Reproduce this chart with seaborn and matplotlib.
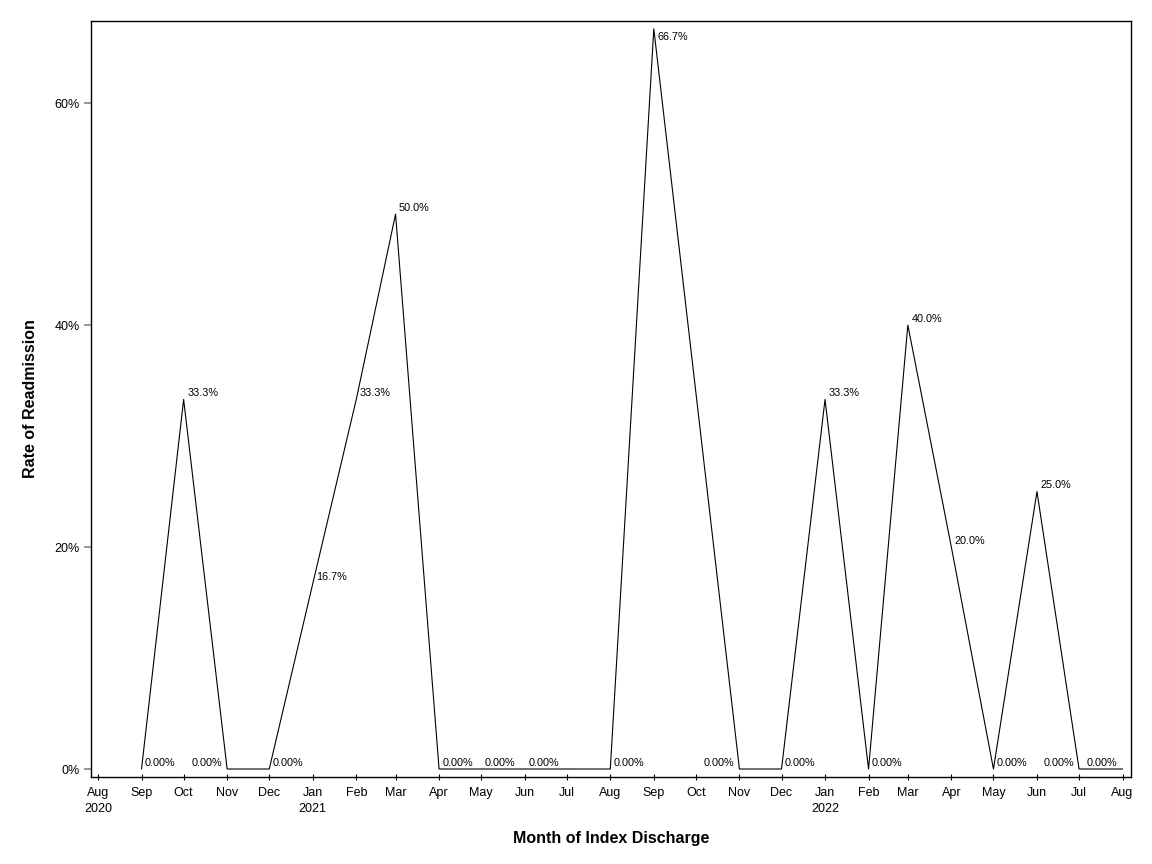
import pandas as pd
import numpy as np

import seaborn as sns
import matplotlib.pyplot as plt
from matplotlib.ticker import FuncFormatter

# monthly readmission rate (%), months with no discharges are left out
months = ['2020-09', '2020-10', '2020-11', '2020-12', '2021-01', '2021-02',
          '2021-03', '2021-04', '2021-05', '2021-06', '2021-08', '2021-09',
          '2021-11', '2021-12', '2022-01', '2022-02', '2022-03', '2022-04',
          '2022-05', '2022-06', '2022-07', '2022-08']
rates = [0.0, 33.3, 0.0, 0.0, 16.7, 33.3,
         50.0, 0.0, 0.0, 0.0, 0.0, 66.7,
         0.0, 0.0, 33.3, 0.0, 40.0, 20.0,
         0.0, 25.0, 0.0, 0.0]

tick_months = pd.date_range('2020-08-01', '2022-08-01', freq='MS')

# where SAS moved the point labels to avoid the line
left_labels = ['2020-11', '2021-11', '2022-07', '2022-08']
below_labels = ['2021-09']

df = pd.DataFrame({'month': pd.to_datetime(months), 'rate': rates})

sns.set_style('white')
plt.rcParams['font.family'] = ['Liberation Sans', 'DejaVu Sans']
plt.rcParams['text.color'] = 'black'
plt.rcParams['axes.labelcolor'] = 'black'
plt.rcParams['xtick.color'] = 'black'
plt.rcParams['ytick.color'] = 'black'

fig = plt.figure(figsize=(11.52, 8.64), dpi=100)
ax = fig.add_axes([91 / 1152, 1 - 777 / 864, 1040 / 1152, 756 / 864])

sns.lineplot(data=df, x='month', y='rate', color='black', linewidth=0.8, ax=ax)

for m, d, v in zip(months, df['month'], df['rate']):
    txt = '0.00%' if v == 0 else f'{v:.1f}%'
    if m in left_labels:
        xy_off, ha, va = (-3.5, 1), 'right', 'bottom'
    elif m in below_labels:
        xy_off, ha, va = (2.5, -2.5), 'left', 'top'
    else:
        xy_off, ha, va = (2.5, 1), 'left', 'bottom'
    ax.annotate(txt, (d, v), xytext=xy_off, textcoords='offset points',
                ha=ha, va=va, fontsize=7.8, color='black')

ax.set_xlim(pd.Timestamp('2020-07-27'), pd.Timestamp('2022-08-07'))
ax.set_ylim(-0.72, 67.4)

ax.set_xticks(tick_months)
xlabels = []
for t in tick_months:
    lab = t.strftime('%b')
    if t == tick_months[0] or t.month == 1:
        lab += '\n' + str(t.year)
    xlabels.append(lab)
ax.set_xticklabels(xlabels, fontsize=9)

ax.set_yticks([0, 20, 40, 60])
ax.yaxis.set_major_formatter(FuncFormatter(lambda v, p: f'{v:.0f}%'))
ax.tick_params(axis='y', labelsize=9, direction='out', length=5, width=1.2,
               color='#888888', labelcolor='black', pad=3, left=True)
ax.tick_params(axis='x', direction='inout', length=5, width=0.8,
               color='black', labelcolor='black', pad=5, bottom=True)
for lab in ax.get_xticklabels():
    lab.set_linespacing(1.45)

for s in ax.spines.values():
    s.set_color('black')
    s.set_linewidth(1.0)

ax.set_xlabel('Month of Index Discharge', fontsize=11.5, fontweight='bold',
              labelpad=11, color='black')
ax.set_ylabel('Rate of Readmission', fontsize=11.5, fontweight='bold',
              labelpad=12, color='black')

fig.savefig('out.png', dpi=100)
